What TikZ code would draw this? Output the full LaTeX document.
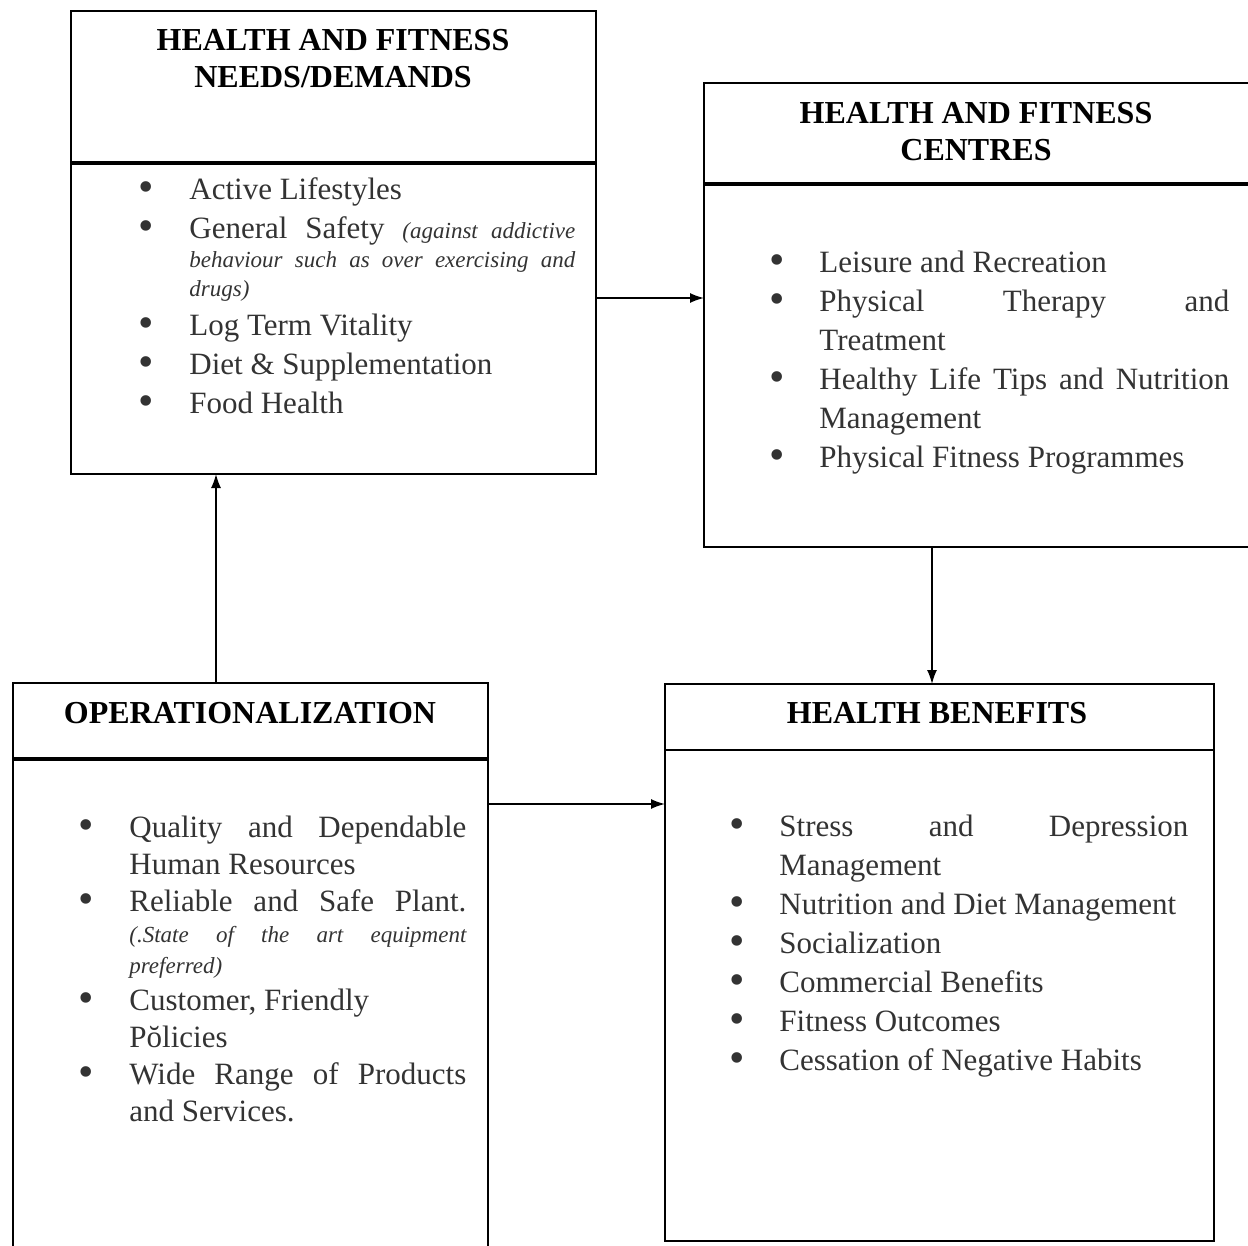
\documentclass[tikz,border=0pt]{standalone}
\usepackage{fontspec}
\setmainfont{Liberation Serif}
\usetikzlibrary{arrows.meta}

\hyphenpenalty=10000
\exhyphenpenalty=10000

% bullet list used inside the boxes
\newenvironment{dotlist}{\list{\raisebox{-1pt}{\fontsize{22}{22}\selectfont\textbullet}}{%
  \setlength\leftmargin{26.5pt}\setlength\labelsep{17.5pt}%
  \setlength\labelwidth{9pt}\setlength\itemindent{0pt}%
  \setlength\itemsep{0pt}\setlength\parsep{0pt}%
  \setlength\topsep{0pt}\setlength\partopsep{0pt}}}{\endlist}
\newcommand{\aside}[1][14.5pt]{\fontsize{11.5}{#1}\selectfont\itshape}
\newcommand{\tall}[1][15pt]{\rule{0pt}{#1}}

\begin{document}
\begin{tikzpicture}[x=0.5pt, y=-0.5pt,
  panel/.style={draw, line width=0.8pt, anchor=north west, inner sep=0pt, outer sep=0pt},
  heading/.style={anchor=north, align=center, inner sep=0pt, font=\fontsize{16}{18.5}\selectfont\bfseries},
  listing/.style={anchor=north west, inner sep=0pt, align=justify, text=black!80, font=\fontsize{15.5}{19.5}\selectfont},
  bar/.style={line width=2pt},
  arr/.style={-{Latex[length=7pt,width=5pt]}, line width=0.8pt}]

  \useasboundingbox (0,0) rectangle (1248,1246);

  % Boxes
  \node[panel, minimum width=262.5pt, minimum height=231.5pt] (needs) at (71,11) {};
  \node[panel, minimum width=275pt, minimum height=232pt] (centres) at (704,83) {};
  \node[panel, minimum width=237.5pt, minimum height=284.5pt] (oper) at (13,683) {};
  \node[panel, minimum width=274.5pt, minimum height=278.5pt] (benefits) at (665,684) {};

  % Header bars
  \draw[bar] (needs.west |- 0,163) -- (needs.east |- 0,163);
  \draw[bar] (centres.west |- 0,184) -- (centres.east |- 0,184);
  \draw[bar] (oper.west |- 0,759) -- (oper.east |- 0,759);
  \draw[line width=1.2pt] (benefits.west |- 0,750) -- (benefits.east |- 0,750);

  % Headings
  \node[heading] (needs-title) at (333,29) {HEALTH AND FITNESS\\NEEDS/DEMANDS};
  \node[heading] (centres-title) at (976,102) {HEALTH AND FITNESS\\CENTRES};
  \node[heading] (oper-title) at (250,702) {OPERATIONALIZATION};
  \node[heading] (benefits-title) at (937,702) {HEALTH BENEFITS};

  % Lists
  \node[listing, text width=219.5pt] (needs-list) at (136,160) {\begin{dotlist}
    \item Active Lifestyles
    \item\tall General Safety {\aside (against addictive behaviour such as over exercising and drugs)\par}
    \item Log Term Vitality
    \item Diet \& Supplementation
    \item Food Health
  \end{dotlist}};
  \node[listing, text width=231.5pt] (centres-list) at (766,233) {\begin{dotlist}
    \item Leisure and Recreation
    \item Physical Therapy and\linebreak Treatment
    \item Healthy Life Tips and Nutrition Management
    \item Physical Fitness Programmes
  \end{dotlist}};
  \node[listing, text width=195pt, font=\fontsize{15.5}{18.5}\selectfont] (oper-list) at (76,800) {\begin{dotlist}
    \item Quality and Dependable Human Resources
    \item\tall[17.5pt]Reliable and Safe Plant. {\aside[15.5pt] (.State of the art equipment preferred)\par}
    \item Customer, Friendly\\ Pŏlicies
    \item Wide Range of Products and Services.
  \end{dotlist}};
  \node[listing, text width=231pt] (benefits-list) at (726,797) {\begin{dotlist}
    \item Stress and Depression Management
    \item Nutrition and Diet Management
    \item Socialization
    \item Commercial Benefits
    \item Fitness Outcomes
    \item Cessation of Negative Habits
  \end{dotlist}};

  % Connectors
  \draw[arr] (needs.east |- 0,298) -- (centres.west |- 0,298);
  \draw[arr] (oper.north -| 216,0) -- (needs.south -| 216,0);
  \draw[arr] (centres.south -| 932,0) -- (benefits.north -| 932,0);
  \draw[arr] (oper.east |- 0,804) -- (benefits.west |- 0,804);
\end{tikzpicture}
\end{document}
